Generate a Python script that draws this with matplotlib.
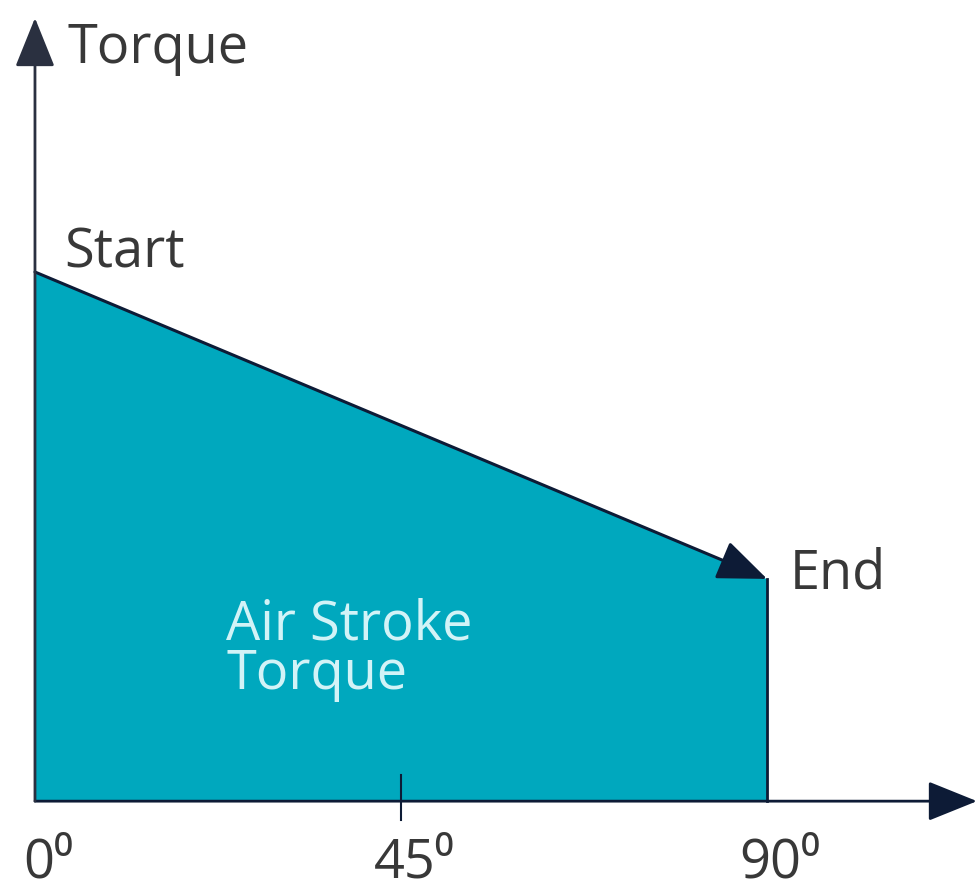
import matplotlib.pyplot as plt

# data
angle = [0, 90]
torque = [100, 42]
tick_pos = [0, 45, 90]
tick_labels = ['0⁰', '45⁰', '90⁰']

fill_col = '#00A8BE'
dark = '#0D1B36'
txt = '#383838'
fam = ['Open Sans', 'DejaVu Sans']
head = '-|>,head_length=3.1,head_width=1.25'
fs = 39

fig = plt.figure(figsize=(9.77, 8.89), dpi=100)
ax = fig.add_axes([0, 0, 1, 1])
ax.set_xlim(-4.3, 115.8)
ax.set_ylim(-16.6, 151.4)
ax.axis('off')

# filled area
ax.fill_between(angle, torque, 0, color=fill_col, lw=0)
ax.plot([angle[1], angle[1]], [0, torque[1]], color=dark, lw=2)

# sloped line with arrowhead
ax.annotate('', xy=(angle[1], torque[1]), xytext=(angle[0], torque[0]),
            arrowprops=dict(arrowstyle=head, color=dark, lw=2.2,
                            shrinkA=0, shrinkB=0))

# axes with arrows
ax.annotate('', xy=(115.8, 0), xytext=(0, 0),
            arrowprops=dict(arrowstyle=head, color=dark, lw=2,
                            shrinkA=0, shrinkB=0))
ax.annotate('', xy=(0, 148), xytext=(0, 0),
            arrowprops=dict(arrowstyle=head, color='#2A3040', lw=2,
                            shrinkA=0, shrinkB=0))

# 45 tick
ax.plot([45, 45], [-3.6, 4.9], color=dark, lw=1.5)

for p, lab in zip(tick_pos, tick_labels):
    ax.text(p + 1.6, -14.4, lab, ha='center', va='baseline', fontsize=fs,
            color=txt, family=fam)

ax.text(4, 139.4, 'Torque', ha='left', va='baseline', fontsize=fs, color=txt, family=fam)
ax.text(3.6, 100.8, 'Start', ha='left', va='baseline', fontsize=fs, color=txt, family=fam)
ax.text(92.8, 40.1, 'End', ha='left', va='baseline', fontsize=fs, color=txt, family=fam)
ax.text(23.5, 30.6, 'Air Stroke', ha='left', va='baseline', fontsize=fs,
        color='#D2F3F7', family=fam)
ax.text(23.5, 21.2, 'Torque', ha='left', va='baseline', fontsize=fs,
        color='#D2F3F7', family=fam)

fig.savefig('out.png', dpi=100)
